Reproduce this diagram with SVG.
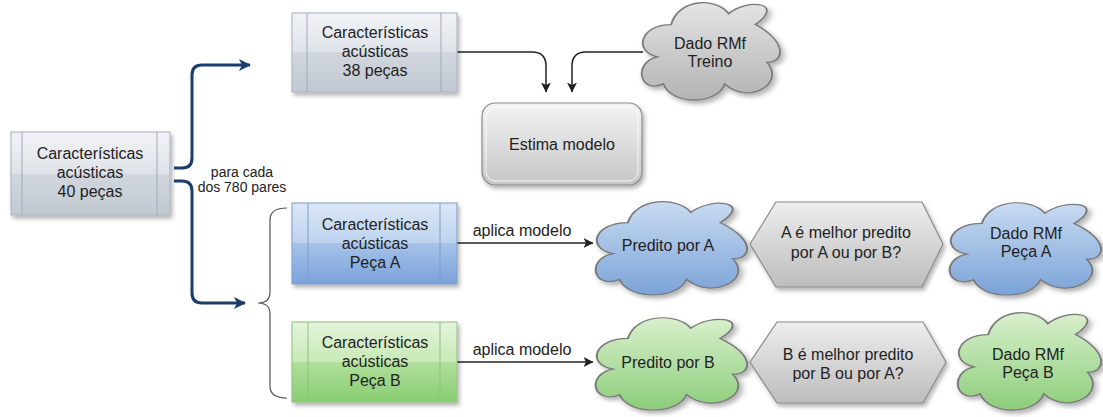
<svg xmlns="http://www.w3.org/2000/svg" width="1103" height="417" viewBox="0 0 1103 417">
<defs>
<style>
text{font-family:"Liberation Sans",Arial,sans-serif;font-size:16px;fill:#222;text-anchor:middle}
.sm{font-size:14px}
.box{stroke-width:1}
.bar{fill:none;stroke-width:1}
.nav{fill:none;stroke:#1b3d6e;stroke-width:3}
.blk{fill:none;stroke:#222;stroke-width:1.5}
.cloud{stroke:#7a7a7a;stroke-width:1.2}
</style>
<linearGradient id="gGray" x1="0" y1="0" x2="0" y2="1">
<stop offset="0" stop-color="#f1f3f6"/><stop offset="0.5" stop-color="#dfe3e9"/><stop offset="0.5" stop-color="#d2d7df"/><stop offset="1" stop-color="#c2c8d1"/>
</linearGradient>
<linearGradient id="gBlue" x1="0" y1="0" x2="0" y2="1">
<stop offset="0" stop-color="#dbe7f6"/><stop offset="0.5" stop-color="#bdd3ef"/><stop offset="0.5" stop-color="#a6c2e9"/><stop offset="1" stop-color="#7aa2db"/>
</linearGradient>
<linearGradient id="gGreen" x1="0" y1="0" x2="0" y2="1">
<stop offset="0" stop-color="#e4f4dc"/><stop offset="0.5" stop-color="#c8eab7"/><stop offset="0.5" stop-color="#b1e09c"/><stop offset="1" stop-color="#88cd72"/>
</linearGradient>
<linearGradient id="gEst" x1="0" y1="0" x2="0" y2="1">
<stop offset="0" stop-color="#f4f4f4"/><stop offset="1" stop-color="#c6c6c6"/>
</linearGradient>
<linearGradient id="cGray" x1="0" y1="0" x2="0" y2="1">
<stop offset="0" stop-color="#e4e4e4"/><stop offset="1" stop-color="#b3b3b3"/>
</linearGradient>
<linearGradient id="cBlue" x1="0" y1="0" x2="0" y2="1">
<stop offset="0" stop-color="#c9dbf1"/><stop offset="1" stop-color="#7ba3d8"/>
</linearGradient>
<linearGradient id="cGreen" x1="0" y1="0" x2="0" y2="1">
<stop offset="0" stop-color="#d9f0cd"/><stop offset="1" stop-color="#8ccd7a"/>
</linearGradient>
<linearGradient id="hGray" x1="0" y1="0" x2="0" y2="1">
<stop offset="0" stop-color="#eeeeee"/><stop offset="1" stop-color="#bdbdbd"/>
</linearGradient>
<filter id="sh" x="-10%" y="-10%" width="125%" height="130%">
<feDropShadow dx="2" dy="3" stdDeviation="2" flood-color="#000" flood-opacity="0.3"/>
</filter>
<marker id="aNav" viewBox="0 0 12 12" refX="11" refY="6" markerWidth="12" markerHeight="12" markerUnits="userSpaceOnUse" orient="auto">
<path d="M0 0 L12 6 L0 12 L3 6 Z" fill="#1b3d6e"/>
</marker>
<marker id="aBlk" viewBox="0 0 10 10" refX="9.5" refY="5" markerWidth="10" markerHeight="10" markerUnits="userSpaceOnUse" orient="auto">
<path d="M0 0 L10 5 L0 10 L2.5 5 Z" fill="#222"/>
</marker>
<path id="cloudShape" d="M25 25 C5 25 0 50 16 55 C0 60 4 90 20 80 C25 100 55 100 60 80 C75 100 100 80 87.5 60 C100 60 100 40 80 25 C100 5 75 0 62.5 15 C55 0 30 0 25 25 Z"/>
</defs>
<rect width="1103" height="417" fill="#ffffff"/>

<g id="connectors">
<path class="nav" d="M174 168 L182 168 Q192 168 192 158 L192 75 Q192 65 202 65 L250 65" marker-end="url(#aNav)"/>
<path class="nav" d="M174 181 L182 181 Q192 181 192 191 L192 293 Q192 303 202 303 L245 303" marker-end="url(#aNav)"/>
<path class="blk" d="M457 52 L532 52 Q546 52 546 66 L546 92" marker-end="url(#aBlk)"/>
<path class="blk" d="M643 52 L586 52 Q572 52 572 66 L572 92" marker-end="url(#aBlk)"/>
<path class="blk" d="M457 243 L593 243" marker-end="url(#aBlk)"/>
<path class="blk" d="M457 362 L593 362" marker-end="url(#aBlk)"/>
<path d="M287 208 Q270 208 270 220 L270 292 Q270 303 258 303 Q270 303 270 314 L270 386 Q270 398 287 398" fill="none" stroke="#555" stroke-width="1.2"/>
<text class="sm" x="242" y="177">para cada</text>
<text class="sm" x="242" y="192">dos 780 pares</text>
<text x="522" y="236">aplica modelo</text>
<text x="522" y="355">aplica modelo</text>
</g>

<g id="n40">
<rect x="11" y="132" width="159" height="83" fill="url(#gGray)" stroke="#a7b1c0" filter="url(#sh)"/>
<line class="bar" x1="22" y1="132" x2="22" y2="215" stroke="#a0aaba"/>
<line class="bar" x1="157" y1="132" x2="157" y2="215" stroke="#a0aaba"/>
<text x="90" y="159">Características</text>
<text x="90" y="178">acústicas</text>
<text x="90" y="197">40 peças</text>
</g>

<g id="n38">
<rect x="292" y="13" width="165" height="79" fill="url(#gGray)" stroke="#a7b1c0" filter="url(#sh)"/>
<line class="bar" x1="307" y1="13" x2="307" y2="92" stroke="#a0aaba"/>
<line class="bar" x1="441" y1="13" x2="441" y2="92" stroke="#a0aaba"/>
<text x="375" y="38">Características</text>
<text x="375" y="57">acústicas</text>
<text x="375" y="76">38 peças</text>
</g>

<g id="treino">
<use href="#cloudShape" class="cloud" fill="url(#cGray)" vector-effect="non-scaling-stroke" transform="translate(632.8 -2.4) scale(1.533 1.078)" filter="url(#sh)"/>
<text x="710" y="49">Dado RMf</text>
<text x="710" y="67">Treino</text>
</g>

<g id="estima">
<rect x="482" y="103" width="160" height="82" rx="13" fill="url(#gEst)" stroke="#8a8a8a" stroke-width="1.2" filter="url(#sh)"/>
<rect x="486" y="107" width="152" height="74" rx="10" fill="none" stroke="#ffffff" stroke-opacity="0.8"/>
<text x="562" y="150">Estima modelo</text>
</g>

<g id="pecaA">
<rect x="292" y="203" width="165" height="81" fill="url(#gBlue)" stroke="#7f9ec8" filter="url(#sh)"/>
<line class="bar" x1="308" y1="203" x2="308" y2="284" stroke="#7f9ec8"/>
<line class="bar" x1="440" y1="203" x2="440" y2="284" stroke="#7f9ec8"/>
<text x="375" y="230">Características</text>
<text x="375" y="249">acústicas</text>
<text x="375" y="268">Peça A</text>
</g>

<g id="pecaB">
<rect x="292" y="322" width="165" height="80" fill="url(#gGreen)" stroke="#90bf7f" filter="url(#sh)"/>
<line class="bar" x1="308" y1="322" x2="308" y2="402" stroke="#90bf7f"/>
<line class="bar" x1="440" y1="322" x2="440" y2="402" stroke="#90bf7f"/>
<text x="375" y="348">Características</text>
<text x="375" y="367">acústicas</text>
<text x="375" y="386">Peça B</text>
</g>

<g id="preditoA">
<use href="#cloudShape" class="cloud" fill="url(#cBlue)" vector-effect="non-scaling-stroke" transform="translate(585.9 196.8) scale(1.678 1.033)" filter="url(#sh)"/>
<text x="668" y="251">Predito por A</text>
</g>

<g id="hexA">
<polygon points="750,244 776,202 922,202 943,244 922,287 776,287" fill="url(#hGray)" stroke="#8a8a8a" stroke-width="1.2" filter="url(#sh)"/>
<text x="846" y="238">A é melhor predito</text>
<text x="846" y="258">por A ou por B?</text>
</g>

<g id="dadoA">
<use href="#cloudShape" class="cloud" fill="url(#cBlue)" vector-effect="non-scaling-stroke" transform="translate(939.9 197.9) scale(1.678 1.022)" filter="url(#sh)"/>
<text x="1026" y="239">Dado RMf</text>
<text x="1026" y="257">Peça A</text>
</g>

<g id="preditoB">
<use href="#cloudShape" class="cloud" fill="url(#cGreen)" vector-effect="non-scaling-stroke" transform="translate(585.9 312.9) scale(1.678 1.022)" filter="url(#sh)"/>
<text x="668" y="368">Predito por B</text>
</g>

<g id="hexB">
<polygon points="750,362 777,322 923,322 946,362 923,403 777,403" fill="url(#hGray)" stroke="#8a8a8a" stroke-width="1.2" filter="url(#sh)"/>
<text x="848" y="360">B é melhor predito</text>
<text x="848" y="379">por B ou por A?</text>
</g>

<g id="dadoB">
<use href="#cloudShape" class="cloud" fill="url(#cGreen)" vector-effect="non-scaling-stroke" transform="translate(948.5 307.6) scale(1.589 1.078)" filter="url(#sh)"/>
<text x="1028" y="360">Dado RMf</text>
<text x="1028" y="378">Peça B</text>
</g>
</svg>
